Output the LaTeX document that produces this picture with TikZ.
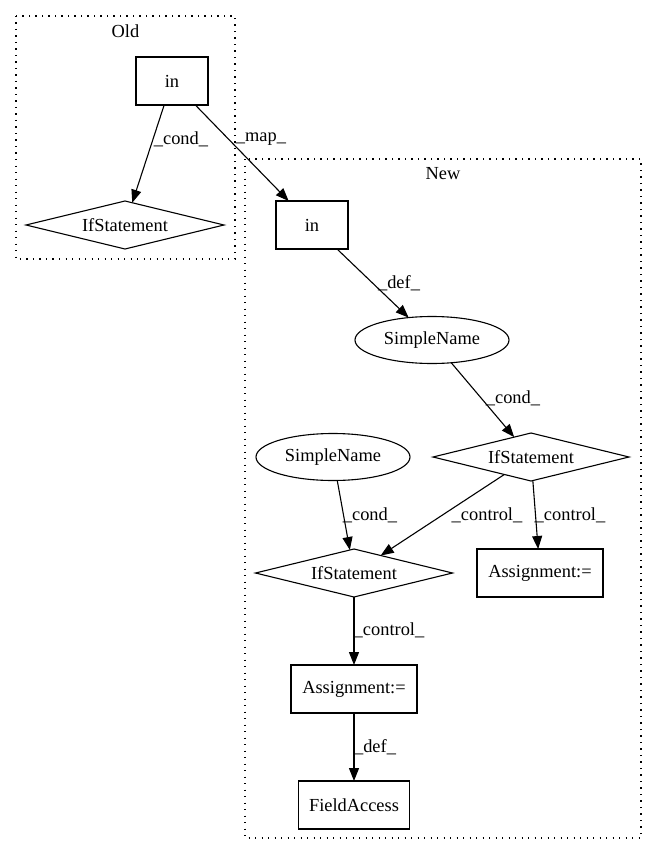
\documentclass[tikz,border=0pt]{standalone}
\usepackage{fontspec}
\setmainfont{Liberation Serif}
\usetikzlibrary{shapes.geometric,arrows.meta}
\begin{document}
\begin{tikzpicture}[x=1pt,y=-1pt,
  every node/.style={font=\fontsize{18.4}{20}\selectfont},
  nbox/.style={draw, rectangle, line width=1.1pt, inner sep=0pt, outer sep=0pt, minimum height=48pt},
  ndia/.style={draw, diamond, line width=1.1pt, inner sep=0pt, outer sep=0pt, minimum height=48pt, aspect=4.1},
  nell/.style={draw, ellipse, line width=1.1pt, inner sep=0pt, outer sep=0pt, minimum width=154pt, minimum height=47pt},
  cluster/.style={line width=1.2pt, dash pattern=on 1.3pt off 5.2pt},
  edge/.style={line width=1.1pt, -{Triangle[length=13pt,width=10pt]}},
  lbl/.style={inner sep=0pt}
]
\useasboundingbox (0,0) rectangle (657,856);
% clusters
\draw[cluster] (16,16) rectangle (235,259);
\node[lbl] (oldlbl) at (125.5,31) {Old};
\draw[cluster] (245,159) rectangle (641,838);
\node[lbl] (newlbl) at (443,174) {New};
% nodes
\node[nbox, minimum width=72pt] (oin) at (172,81) {in};
\node[ndia, minimum width=198pt] (oif) at (125,225) {IfStatement};
\node[nbox, minimum width=72pt] (nin) at (312,225) {in};
\node[nell] (sn1) at (432,340) {SimpleName};
\node[ndia, minimum width=196pt] (if1) at (531,457) {IfStatement};
\node[nell] (sn2) at (333,457) {SimpleName};
\node[ndia, minimum width=197pt] (if2) at (354,573) {IfStatement};
\node[nbox, minimum width=126pt] (as1) at (540,573) {Assignment:=};
\node[nbox, minimum width=126pt] (as2) at (354,689) {Assignment:=};
\node[nbox, minimum width=111pt] (fa) at (354,805) {FieldAccess};
% edges
\draw[edge] (oin) -- (oif);
\draw[edge] (oin) -- (nin);
\draw[edge] (nin) -- (sn1);
\draw[edge] (sn1) -- (if1);
\draw[edge] (sn2) -- (if2);
\draw[edge] (if1) -- (if2);
\draw[edge] (if1) -- (as1);
\draw[edge] (if2) -- (as2);
\draw[edge] (as2) -- (fa);
% labels
\node[lbl] (l1) at (181,139) {\_cond\_};
\node[lbl] (l2) at (261,139) {\_map\_};
\node[lbl] (l3) at (399,283) {\_def\_};
\node[lbl] (l4) at (513,398) {\_cond\_};
\node[lbl] (l5) at (370,515) {\_cond\_};
\node[lbl] (l6) at (487,515) {\_control\_};
\node[lbl] (l7) at (570,515) {\_control\_};
\node[lbl] (l8) at (389,630) {\_control\_};
\node[lbl] (l9) at (375,747) {\_def\_};
\end{tikzpicture}
\end{document}
